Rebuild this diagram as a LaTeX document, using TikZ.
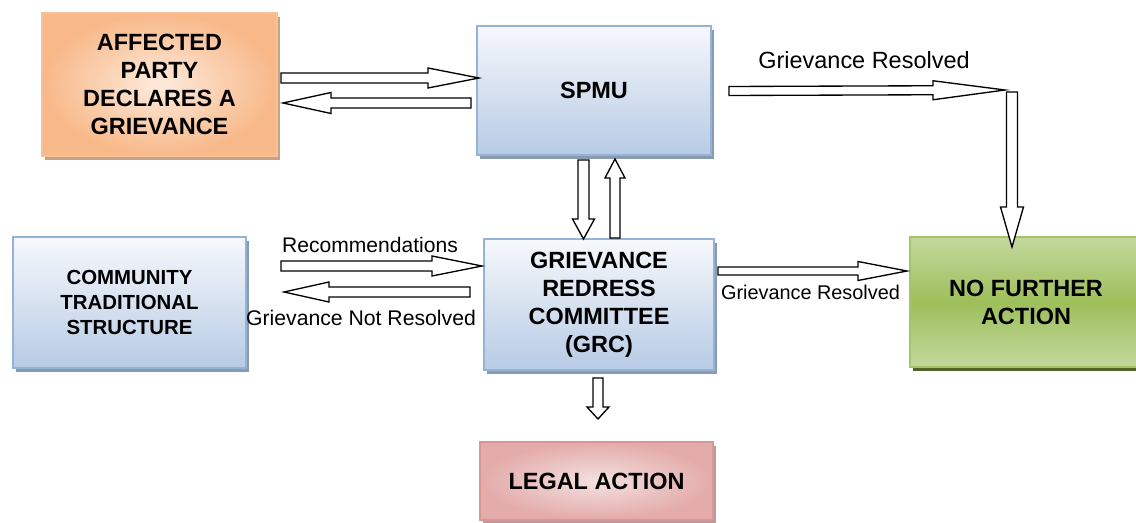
\documentclass[tikz,border=0pt]{standalone}
\usepackage{fontspec}
\setmainfont{Liberation Sans}
\usetikzlibrary{calc,shadows}

\definecolor{orangeedge}{HTML}{F6C29C}
\definecolor{orangeout}{HTML}{F8B888}
\definecolor{orangein}{HTML}{FDEBDD}
\definecolor{orangeshadow}{HTML}{C9A184}
\definecolor{blueedge}{HTML}{95B3D7}
\definecolor{bluetop}{HTML}{F6F8FC}
\definecolor{bluebottom}{HTML}{B7CBE4}
\definecolor{blueshadow}{HTML}{8A9BB0}
\definecolor{greenedge}{HTML}{A5C46A}
\definecolor{greenlight}{HTML}{C4D89E}
\definecolor{greenmid}{HTML}{9DBF5A}
\definecolor{greenshadow}{HTML}{4F6228}
\definecolor{rededge}{HTML}{D99694}
\definecolor{redout}{HTML}{E3ABAA}
\definecolor{redin}{HTML}{F4E0E0}
\definecolor{redshadow}{HTML}{B89C9C}

\newcommand{\pxs}{0.75pt}
\newcommand{\boxfont}{\fontsize{17.6}{21}\selectfont\bfseries}
\newcommand{\commfont}{\fontsize{15.3}{18.75}\selectfont\bfseries}

\tikzset{
	box/.style={draw, line width=1.5pt, inner sep=0pt, align=center, font=\boxfont},
	bluebox/.style={box, draw=blueedge, top color=bluetop, bottom color=bluebottom,
		drop shadow={shadow xshift=2.25pt, shadow yshift=-3pt, fill=blueshadow, opacity=1}},
	orangebox/.style={box, draw=orangeedge, inner color=orangein, outer color=orangeout,
		drop shadow={shadow xshift=2.25pt, shadow yshift=-3pt, fill=orangeshadow, opacity=1}},
	greenbox/.style={box, draw=greenedge, top color=greenlight, bottom color=greenlight, middle color=greenmid,
		drop shadow={shadow xshift=2.25pt, shadow yshift=-3pt, fill=greenshadow, opacity=1}},
	redbox/.style={box, draw=rededge, inner color=redin, outer color=redout,
		drop shadow={shadow xshift=2.25pt, shadow yshift=-3pt, fill=redshadow, opacity=1}},
	blockarr/.style={draw=black, fill=white, line width=1pt, line join=miter},
	lbl/.style={inner sep=0pt, anchor=base}
}

% tail, tip, shaft half width, head half width, head length (px)
\newcommand{\blockarrow}[5]{%
	\coordinate (hb) at ($(#2)!#5*\pxs!(#1)$);
	\draw[blockarr] ($(#1)!#3*\pxs!90:(#2)$) -- ($(hb)!#3*\pxs!-90:(#1)$) -- ($(hb)!#4*\pxs!-90:(#1)$)
		-- (#2) -- ($(hb)!#4*\pxs!90:(#1)$) -- ($(hb)!#3*\pxs!90:(#1)$) -- ($(#1)!#3*\pxs!-90:(#2)$) -- cycle;
}

\begin{document}
\begin{tikzpicture}[x=0.75pt, y=-0.75pt]
		%%%%% START %%%%%
		
		\useasboundingbox (0, 0) rectangle (1136, 523);
		
		\node[orangebox, minimum width=235*\pxs, minimum height=143*\pxs] (aff) at (159.5, 84.5) {AFFECTED\\PARTY\\DECLARES A\\GRIEVANCE};
		\node[bluebox, minimum width=234*\pxs, minimum height=129*\pxs] (spmu) at (594, 90.5) {SPMU};
		\node[bluebox, font=\commfont, minimum width=233*\pxs, minimum height=131*\pxs] (comm) at (129.5, 302.5) {COMMUNITY\\TRADITIONAL\\STRUCTURE};
		\node[bluebox, minimum width=230*\pxs, minimum height=131*\pxs] (grc) at (599, 304.5) {GRIEVANCE\\REDRESS\\COMMITTEE\\(GRC)};
		\node[greenbox, minimum width=232*\pxs, minimum height=130*\pxs] (nfa) at (1026, 302) {NO FURTHER\\ACTION};
		\node[redbox, minimum width=233*\pxs, minimum height=78*\pxs] (legal) at (596.5, 481) {LEGAL ACTION};
		
		% affected party <-> SPMU
		\coordinate (a1t) at ($(aff.east)+(3, -6.5)$);
		\coordinate (a1h) at ($(spmu.west |- a1t)+(3, 0)$);
		\blockarrow{a1t}{a1h}{5}{10}{51}
		\coordinate (a2t) at ($(spmu.west)+(-5, 12.5)$);
		\coordinate (a2h) at ($(aff.east |- a2t)+(5, 0)$);
		\blockarrow{a2t}{a2h}{5}{10.5}{48}
		
		% SPMU -> no further action
		\coordinate (a4t) at ($(nfa.north)+(-14, -144)$);
		\coordinate (a4h) at ($(nfa.north)+(-14, 11)$);
		\coordinate (a3t) at ($(spmu.east)+(17, 0.5)$);
		\coordinate (a3h) at ($(a4t)+(-7, -2)$);
		\blockarrow{a3t}{a3h}{4.5}{9.5}{72}
		\blockarrow{a4t}{a4h}{5.5}{11.5}{40}
		\node[lbl, font=\fontsize{17.6}{21}\selectfont] (res1) at (864, 69) {Grievance Resolved};
		
		% SPMU <-> GRC
		\coordinate (a5t) at ($(spmu.south)+(-10.5, 4)$);
		\coordinate (a5h) at ($(grc.north)+(-15.5, 1)$);
		\blockarrow{a5t}{a5h}{5.5}{11}{20}
		\coordinate (a6t) at ($(grc.north)+(16, 0)$);
		\coordinate (a6h) at ($(spmu.south)+(21, 3)$);
		\blockarrow{a6t}{a6h}{5}{10}{19}
		
		% community <-> GRC
		\coordinate (a7t) at ($(comm.east)+(34, -36.5)$);
		\coordinate (a7h) at ($(grc.west |- a7t)+(-1, 0)$);
		\blockarrow{a7t}{a7h}{5}{10}{50}
		\node[lbl, font=\fontsize{15.8}{19}\selectfont] (rec) at (370, 253) {Recommendations};
		\coordinate (a8t) at ($(grc.west)+(-13, -12.5)$);
		\coordinate (a8h) at ($(comm.east |- a8t)+(37, 0)$);
		\blockarrow{a8t}{a8h}{5}{10}{45}
		\node[lbl, font=\fontsize{15.9}{19}\selectfont] (notres) at (361, 326) {Grievance Not Resolved};
		
		% GRC -> no further action
		\coordinate (a9t) at ($(grc.east)+(3, -33.5)$);
		\coordinate (a9h) at ($(nfa.west |- a9t)+(-2, 0)$);
		\blockarrow{a9t}{a9h}{4}{9.5}{49}
		\node[lbl, font=\fontsize{14.9}{18}\selectfont] (res2) at (810.5, 300) {Grievance Resolved};
		
		% GRC -> legal action
		\coordinate (a10t) at ($(grc.south)+(-1, 7)$);
		\coordinate (a10h) at ($(legal.north)+(1.5, -22)$);
		\blockarrow{a10t}{a10h}{5}{11}{12}
		
		%%%%% END %%%%%
	\end{tikzpicture}
\end{document}
